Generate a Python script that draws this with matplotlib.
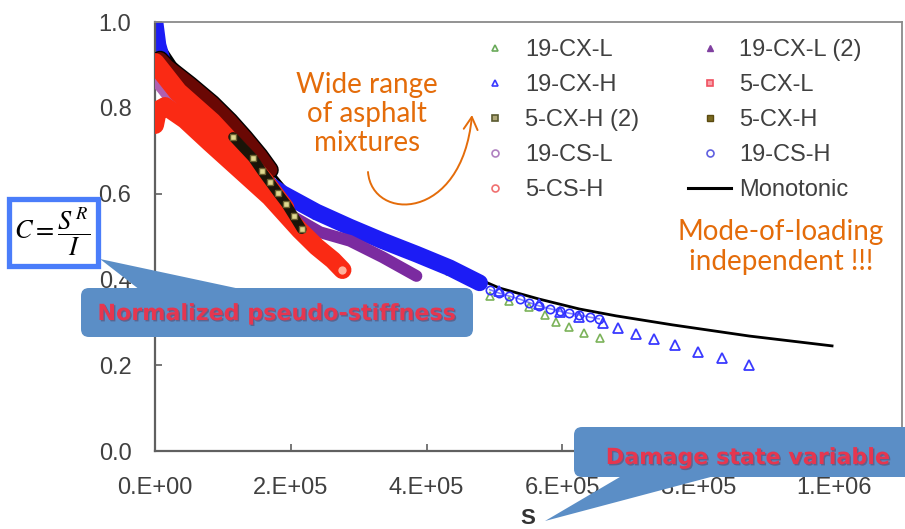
import matplotlib
matplotlib.use("Agg")
import matplotlib.pyplot as plt
from matplotlib.lines import Line2D
from matplotlib.patches import FancyBboxPatch, Polygon, Rectangle, FancyArrowPatch
from matplotlib.path import Path
from matplotlib.transforms import Affine2D
import matplotlib.patheffects as pe

W, H = 905, 529

# ---- damage characteristic curves: pseudo-stiffness C against damage S ----
mono_s = [0, 1.18e4, 2.94e4, 5.88e4, 8.82e4, 1.32e5, 1.62e5, 1.99e5, 2.43e5,
          2.87e5, 3.35e5, 3.85e5, 4.34e5, 5.07e5, 5.66e5, 6.25e5, 6.79e5,
          7.62e5, 8.75e5, 9.97e5]
mono_c = [1.000, 0.946, 0.904, 0.853, 0.807, 0.725, 0.670, 0.600, 0.550,
          0.520, 0.491, 0.461, 0.430, 0.380, 0.354, 0.331, 0.315,
          0.294, 0.268, 0.245]

cs19h_s = [0, 4.4e3, 1.47e4, 3.68e4, 6.62e4, 1.03e5, 1.40e5, 1.88e5, 2.38e5,
           2.87e5, 3.35e5, 3.85e5, 4.34e5, 4.78e5]
cs19h_c = [1.000, 0.946, 0.888, 0.830, 0.775, 0.710, 0.652, 0.600, 0.557,
           0.522, 0.490, 0.459, 0.427, 0.392]
cs19h_tail_s = [4.93e5, 5.07e5, 5.22e5, 5.37e5, 5.51e5, 5.66e5, 5.81e5, 5.96e5,
                6.10e5, 6.25e5, 6.40e5, 6.54e5]
cs19h_tail_c = [0.376, 0.368, 0.361, 0.354, 0.346, 0.338, 0.332, 0.326,
                0.321, 0.317, 0.312, 0.308]

cx19h_s = [0, 1.47e4, 6.62e4, 1.40e5, 2.38e5, 3.35e5, 4.34e5, 5.07e5, 5.66e5,
           5.96e5, 6.25e5, 6.59e5, 6.82e5, 7.09e5, 7.35e5, 7.65e5, 7.99e5,
           8.35e5, 8.75e5]
cx19h_c = [1.000, 0.890, 0.775, 0.652, 0.556, 0.490, 0.428, 0.372, 0.343,
           0.324, 0.312, 0.298, 0.287, 0.273, 0.261, 0.247, 0.231,
           0.217, 0.200]

cx19l_s = [0, 6.62e4, 1.40e5, 2.38e5, 3.35e5, 4.34e5, 4.93e5, 5.22e5, 5.51e5,
           5.74e5, 5.91e5, 6.10e5, 6.31e5, 6.56e5]
cx19l_c = [1.000, 0.770, 0.650, 0.550, 0.485, 0.420, 0.361, 0.350, 0.336,
           0.317, 0.301, 0.289, 0.275, 0.263]

cx19l2_s = [0, 2.94e4, 6.62e4, 1.10e5, 1.54e5, 1.99e5, 2.43e5, 2.87e5, 3.35e5, 3.85e5]
cx19l2_c = [0.893, 0.823, 0.760, 0.690, 0.620, 0.550, 0.510, 0.490, 0.452, 0.408]

cs19l_s = [0, 1.0e4, 3.0e4, 6.0e4, 1.0e5, 1.4e5]
cs19l_c = [0.860, 0.840, 0.800, 0.750, 0.690, 0.630]

cx5l_s = [0, 3.38e4, 8.38e4, 1.25e5, 1.62e5, 1.91e5]
cx5l_c = [0.905, 0.837, 0.767, 0.697, 0.627, 0.566]

cs5h_s = [0, 4.4e3, 1.47e4, 4.41e4, 8.09e4, 1.25e5, 1.69e5, 2.13e5, 2.38e5, 2.62e5, 2.76e5]
cs5h_c = [0.760, 0.795, 0.804, 0.772, 0.718, 0.655, 0.592, 0.515, 0.476, 0.445, 0.422]

cx5h_s = [7.4e3, 1.76e4, 5.15e4, 8.38e4, 1.10e5, 1.32e5, 1.54e5, 1.69e5]
cx5h_c = [0.912, 0.895, 0.853, 0.810, 0.769, 0.730, 0.688, 0.655]

cx5h2_s = [1.15e5, 1.44e5, 1.57e5, 1.69e5, 1.81e5, 1.93e5, 2.04e5, 2.16e5]
cx5h2_c = [0.732, 0.683, 0.653, 0.627, 0.601, 0.576, 0.548, 0.517]

x_ticks = [0, 2e5, 4e5, 6e5, 8e5, 1e6]
x_tick_labels = ["0.E+00", "2.E+05", "4.E+05", "6.E+05", "8.E+05", "1.E+06"]
y_ticks = [0.0, 0.2, 0.4, 0.6, 0.8, 1.0]
y_tick_labels = ["0.0", "0.2", "0.4", "0.6", "0.8", "1.0"]

# ---- colours ----
BLUE = "#1c1cf5"
RED = "#fa2a14"
PURPLE = "#7b2ba0"
MAROON = "#6a0804"
GREEN = "#7cb35a"
ORANGE = "#E46C0A"
TXT = "#404040"

fig = plt.figure(figsize=(W / 100, H / 100), dpi=100)
ax = fig.add_axes([155 / W, 1 - 451 / H, (902 - 155) / W, (451 - 22) / H])
ax.set_xlim(0, 1.1e6)
ax.set_ylim(0, 1.0)

# monotonic reference curve, partly buried under the fatigue data
ax.plot(mono_s, mono_c, color="black", lw=2.0, zorder=1.5)

# 19 mm mixtures
ax.plot(cx19l_s, cx19l_c, ls="none", marker="^", ms=6, mfc="none", mec=GREEN, mew=1.2, zorder=2)
ax.plot(cx19h_s, cx19h_c, ls="none", marker="^", ms=6.5, mfc="none", mec="#3a3aff", mew=1.3, zorder=2.2)
ax.plot(cs19h_s, cs19h_c, color=BLUE, lw=12, solid_capstyle="round", solid_joinstyle="round", zorder=2.5)
ax.plot(cs19h_tail_s, cs19h_tail_c, color="#4a4aff", lw=1.2, alpha=0.7, zorder=2.5)
ax.plot(cs19h_tail_s, cs19h_tail_c, ls="none", marker="o", ms=6, mfc="none", mec="#3030ff", mew=1.2, zorder=2.6)
ax.plot(cx19l2_s, cx19l2_c, color=PURPLE, lw=8.5, solid_capstyle="round", solid_joinstyle="round", zorder=3)
ax.plot(cs19l_s, cs19l_c, color="#b060b0", lw=6, solid_capstyle="round", zorder=3.1)

# 5 mm mixtures
ax.plot(cx5h_s, cx5h_c, color=MAROON, lw=11, solid_capstyle="round", solid_joinstyle="round", zorder=3.5,
        path_effects=[pe.Stroke(linewidth=13, foreground="black"), pe.Normal()])
ax.plot(cs5h_s, cs5h_c, color=RED, lw=13, solid_capstyle="round", solid_joinstyle="round", zorder=4)
ax.plot(cs5h_s[-1:], cs5h_c[-1:], ls="none", marker="o", ms=7, mfc="#ffb09a", mec=RED, zorder=4.05)
ax.plot(cx5l_s, cx5l_c, color=RED, lw=14, solid_capstyle="round", solid_joinstyle="round", zorder=4.1)
ax.plot(cx5h2_s, cx5h2_c, color="#1a1408", lw=7, solid_capstyle="round", zorder=5)
ax.plot(cx5h2_s, cx5h2_c, ls="none", marker="s", ms=4.5, mfc="#e0d890", mec="#6a6030", mew=1, zorder=5.1)

# axes styling
for side in ("left", "bottom"):
    ax.spines[side].set_color("#606060")
    ax.spines[side].set_linewidth(1.6)
for side in ("top", "right"):
    ax.spines[side].set_color("#8a8a8a")
    ax.spines[side].set_linewidth(1.3)
ax.set_xticks(x_ticks)
ax.set_xticklabels(x_tick_labels)
ax.set_yticks(y_ticks)
ax.set_yticklabels(y_tick_labels)
ax.tick_params(direction="in", length=5, width=1.2, color="#606060",
               labelcolor=TXT, labelsize=17)
ax.tick_params(axis="x", pad=19)
ax.tick_params(axis="y", pad=17)
for lab in ax.get_xticklabels() + ax.get_yticklabels():
    lab.set_family("Liberation Sans")

# legend, laid out column by column
handles = [
    Line2D([], [], ls="none", marker="^", ms=5, mfc="none", mec="#6aaa5a", mew=1.2),
    Line2D([], [], ls="none", marker="^", ms=5, mfc="none", mec="#3a3aff", mew=1.2),
    Line2D([], [], ls="none", marker="s", ms=5, mfc="#b0a878", mec="#5a5a30", mew=1.2),
    Line2D([], [], ls="none", marker="o", ms=5, mfc="none", mec="#b080c0", mew=1.2),
    Line2D([], [], ls="none", marker="o", ms=5, mfc="none", mec="#f07070", mew=1.2),
    Line2D([], [], ls="none", marker="^", ms=5, mfc="#8040a0", mec="#8040a0", mew=1.0),
    Line2D([], [], ls="none", marker="s", ms=5, mfc="#f8a0a8", mec="#f05060", mew=1.2),
    Line2D([], [], ls="none", marker="s", ms=5, mfc="#7a6a20", mec="#5a4a10", mew=1.0),
    Line2D([], [], ls="none", marker="o", ms=5, mfc="none", mec="#6060e0", mew=1.2),
    Line2D([], [], color="black", lw=2.2),
]
labels = ["19-CX-L", "19-CX-H", "5-CX-H (2)", "19-CS-L", "5-CS-H",
          "19-CX-L (2)", "5-CX-L", "5-CX-H", "19-CS-H", "Monotonic"]
leg = ax.legend(handles, labels, ncol=2, loc="upper left",
                bbox_to_anchor=(474 / W, 1 - 39 / H), bbox_transform=fig.transFigure,
                frameon=False, handlelength=1.8, handletextpad=0.35,
                columnspacing=2.1, labelspacing=0.55, borderpad=0, borderaxespad=0,
                prop=dict(family="Liberation Sans", size=17), labelcolor=TXT)

# ---- annotations placed in pixel space (origin at top-left) ----
PX = Affine2D().scale(1 / W, -1 / H).translate(0, 1) + fig.transFigure

fig.text(367, 114, "Wide range\nof asphalt\nmixtures", transform=PX, ha="center",
         va="center", color=ORANGE, fontsize=20, family="Lato", linespacing=1.15)
fig.text(781, 247, "Mode-of-loading\nindependent !!!", transform=PX, ha="center",
         va="center", color=ORANGE, fontsize=20, family="Lato", linespacing=1.2)

curve = Path([(368, 172), (372, 222), (462, 222), (472, 115)],
             [Path.MOVETO, Path.CURVE4, Path.CURVE4, Path.CURVE4])
arrow = FancyArrowPatch(path=curve, transform=PX, arrowstyle="->,head_length=0.45,head_width=0.25",
                        mutation_scale=20, color=ORANGE, lw=1.4)
fig.add_artist(arrow)

# formula box
fig.add_artist(Rectangle((9, 199), 89, 67, transform=PX, facecolor="white",
                         edgecolor="#4A7DFA", lw=3.8, zorder=6))
fig.text(52, 232, r"$C=\dfrac{S^{\,R}}{I}$", transform=PX, ha="center", va="center",
         fontsize=19, math_fontfamily="stix", color="black", zorder=7)

# callouts
CALL = "#5B8EC6"
CALL_TXT = "#E6364F"
shadow = [pe.withSimplePatchShadow(offset=(1, -1), shadow_rgbFace="#60304a", alpha=0.45)]

fig.add_artist(Polygon([(100, 259), (140, 290), (245, 290)], closed=True, transform=PX,
                       facecolor=CALL, edgecolor="none", zorder=8))
fig.add_artist(FancyBboxPatch((81, 288), 392, 49, boxstyle="round,pad=0,rounding_size=8",
                              transform=PX, facecolor=CALL, edgecolor="none", zorder=8))
fig.text(277, 314, "Normalized pseudo-stiffness", transform=PX, ha="center", va="center",
         fontsize=16, fontweight="bold", family="DejaVu Sans", color=CALL_TXT, zorder=9,
         path_effects=shadow)

fig.add_artist(Polygon([(545, 521), (625, 474), (722, 474)], closed=True, transform=PX,
                       facecolor=CALL, edgecolor="none", zorder=8))
fig.add_artist(FancyBboxPatch((574, 427), 345, 50, boxstyle="round,pad=0,rounding_size=8",
                              transform=PX, facecolor=CALL, edgecolor="none", zorder=8))
fig.text(748, 458, "Damage state variable", transform=PX, ha="center", va="center",
         fontsize=16, fontweight="bold", family="DejaVu Sans", color=CALL_TXT, zorder=9,
         path_effects=shadow)

fig.text(528, 518, "S", transform=PX, ha="center", va="center", fontsize=16,
         fontweight="bold", family="Liberation Sans", color="#333333")

fig.savefig("out.png", dpi=100)
